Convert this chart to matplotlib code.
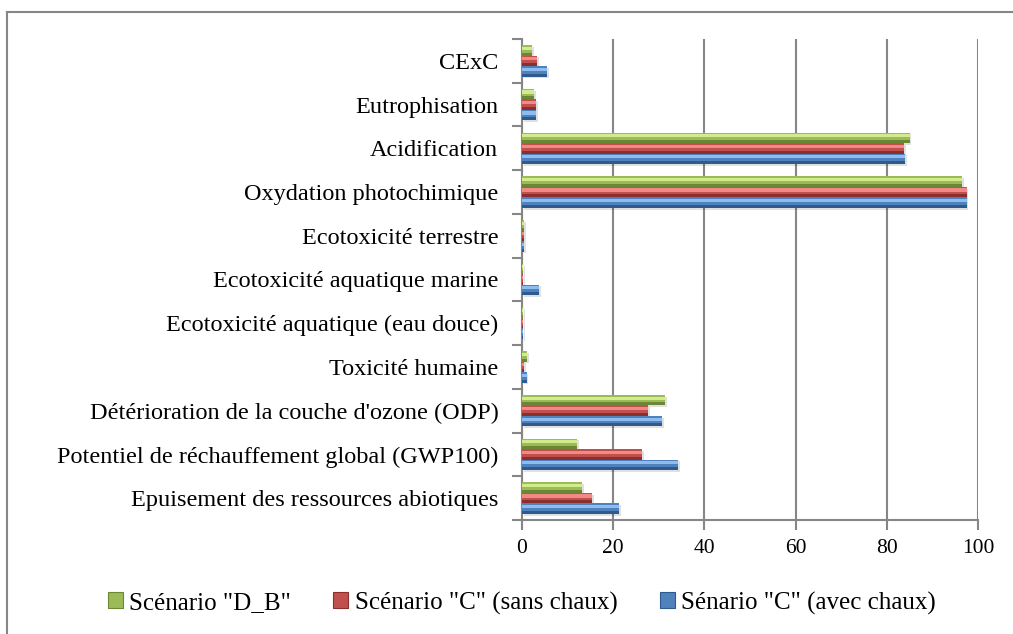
import matplotlib
matplotlib.use('Agg')
import matplotlib.pyplot as plt
import matplotlib.patches as mpatches
import matplotlib.lines as mlines
import numpy as np

plt.rcParams['font.family'] = ['Liberation Serif', 'DejaVu Serif']

# impact categories, listed bottom to top
categories = [
    "Epuisement des ressources abiotiques",
    "Potentiel de réchauffement global (GWP100)",
    "Détérioration de la couche d'ozone (ODP)",
    "Toxicité humaine",
    "Ecotoxicité aquatique (eau douce)",
    "Ecotoxicité aquatique marine",
    "Ecotoxicité terrestre",
    "Oxydation photochimique",
    "Acidification",
    "Eutrophisation",
    "CExC",
]
scen_db = [13.2, 12.1, 31.4, 1.1, 0.3, 0.3, 0.4, 96.6, 85.0, 2.6, 2.2]
scen_c_sans = [15.4, 26.3, 27.6, 0.4, 0.3, 0.2, 0.4, 97.5, 83.8, 3.0, 3.3]
scen_c_avec = [21.3, 34.2, 30.7, 1.0, 0.3, 3.7, 0.4, 97.5, 84.1, 3.0, 5.5]
labels = ['Scénario "D_B"', 'Scénario "C" (sans chaux)', 'Sénario "C" (avec chaux)']

# base / highlight / shade per series
C_GREEN = ("#9BBB59", "#D2EC8C", "#6B8735")
C_RED = ("#C0504D", "#F48884", "#8C2E2B")
C_BLUE = ("#4F81BD", "#8DBDF0", "#2E5A8E")

GRAY = "#868686"

fig = plt.figure(figsize=(10.13, 6.34), dpi=100)
ax = fig.add_axes([522 / 1013, 1 - 520 / 634, 456 / 1013, 481 / 634])

y = np.arange(len(categories))
h = 0.24


def cyl_bars(ypos, vals, cols):
    # shadow, body, then a light stripe and dark lower edge for a tube look
    ax.barh(ypos - 0.04, vals, height=h, left=0.4, color="#000000", alpha=0.12,
            zorder=2, linewidth=0)
    ax.barh(ypos, vals, height=h, color=cols[0], zorder=3, linewidth=0)
    ax.barh(ypos + h * 0.2, vals, height=h * 0.3, color=cols[1], zorder=4, linewidth=0)
    ax.barh(ypos - h * 0.36, vals, height=h * 0.28, color=cols[2], zorder=4, linewidth=0)


cyl_bars(y + h, scen_db, C_GREEN)
cyl_bars(y, scen_c_sans, C_RED)
cyl_bars(y - h, scen_c_avec, C_BLUE)

ax.set_xlim(0, 100)
ax.set_ylim(-0.5, len(categories) - 0.5)
ax.set_xticks(np.arange(0, 101, 20))
ax.set_yticks(y)
ax.set_yticklabels(categories, fontsize=17.5)
ax.set_yticks(np.arange(-0.5, len(categories), 1), minor=True)
ax.tick_params(axis="y", which="major", length=0, pad=17)
ax.tick_params(axis="y", which="minor", length=7, width=1.5, color=GRAY)
ax.tick_params(axis="x", length=7, width=1.5, color=GRAY, labelsize=15.5, pad=7)
ax.grid(axis="x", color=GRAY, linewidth=1.5, zorder=0)
ax.set_axisbelow(True)
for s in ("top", "right"):
    ax.spines[s].set_visible(False)
for s in ("left", "bottom"):
    ax.spines[s].set_color(GRAY)
    ax.spines[s].set_linewidth(1.5)

handles = [mpatches.Patch(facecolor=c[0], edgecolor=c[2], linewidth=0.8)
           for c in (C_GREEN, C_RED, C_BLUE)]
fig.legend(handles, labels, loc="center", bbox_to_anchor=(0.515, 1 - 603 / 634), ncol=3,
           frameon=False, fontsize=18, handlelength=0.6, handleheight=0.6,
           handletextpad=0.25, columnspacing=1.7)

# outer chart frame (top and left edges)
fig.lines.append(mlines.Line2D([7 / 1013, 1], [1 - 12 / 634, 1 - 12 / 634],
                               transform=fig.transFigure, color=GRAY, linewidth=1.5))
fig.lines.append(mlines.Line2D([7 / 1013, 7 / 1013], [0, 1 - 12 / 634],
                               transform=fig.transFigure, color=GRAY, linewidth=1.5))

plt.savefig("out.png", dpi=100)
